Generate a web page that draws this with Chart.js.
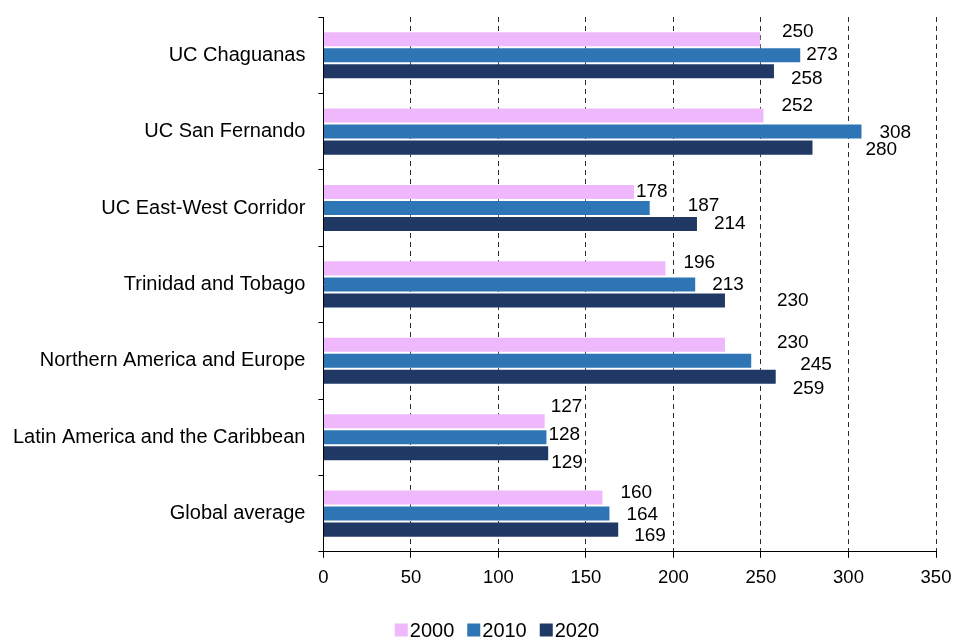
<!DOCTYPE html>
<html>
<head>
<meta charset="utf-8">
<script src="https://cdn.jsdelivr.net/npm/chart.js@4/dist/chart.umd.min.js"></script>
<style>
  html, body { margin: 0; padding: 0; background: #fff; }
  #wrap { width: 954px; height: 639px; }
</style>
</head>
<body>
<div id="wrap"><canvas id="c" width="954" height="639"></canvas></div>
<script>
// Categories and series
const categories = [
  'UC Chaguanas',
  'UC San Fernando',
  'UC East-West Corridor',
  'Trinidad and Tobago',
  'Northern America and Europe',
  'Latin America and the Caribbean',
  'Global average'
];
const seriesNames = ['2000', '2010', '2020'];
const values2000 = [250, 252, 178, 196, 230, 127, 160];
const values2010 = [273, 308, 187, 213, 245, 128, 164];
const values2020 = [258, 280, 214, 230, 259, 129, 169];
const xTicks = [0, 50, 100, 150, 200, 250, 300, 350];

const colors = ['#EFB8FC', '#2E75B6', '#203864'];

// Hand-placed value labels: [gap after bar end, vertical shift] in px
const labelNudge = [
  [[21, -7], [17, -10], [1, 0], [17, -6], [51, -2], [5, -14], [17, -5]],
  [[5, 0], [17, 1], [37, -2], [16, 0], [48, 4], [1, -2], [16, 1]],
  [[16, 8], [52, 2], [16, 0], [51, 0], [16, 12], [2, 10], [15, 6]]
];

const FONT = '"Liberation Sans", Arial, Helvetica, sans-serif';

const valueLabels = {
  id: 'valueLabels',
  afterDatasetsDraw(chart) {
    const ctx = chart.ctx;
    ctx.save();
    ctx.font = '19px ' + FONT;
    ctx.fillStyle = '#000';
    ctx.textAlign = 'left';
    ctx.textBaseline = 'middle';
    chart.data.datasets.forEach((ds, di) => {
      const meta = chart.getDatasetMeta(di);
      meta.data.forEach((bar, i) => {
        const n = labelNudge[di][i];
        ctx.fillText(String(ds.data[i]), bar.x + n[0], bar.y + n[1]);
      });
    });
    ctx.restore();
  }
};

const bottomLegend = {
  id: 'bottomLegend',
  afterDraw(chart) {
    const ctx = chart.ctx;
    const box = 13, textGap = 2, itemGap = 13;
    ctx.save();
    ctx.font = '20px ' + FONT;
    ctx.textBaseline = 'middle';
    ctx.textAlign = 'left';
    const items = chart.data.datasets.map(ds => ({
      label: ds.label, color: ds.backgroundColor,
      w: box + textGap + ctx.measureText(ds.label).width
    }));
    const total = items.reduce((s, it) => s + it.w, 0) + itemGap * (items.length - 1);
    let x = chart.width / 2 + 20 - total / 2;
    const y = 630;
    items.forEach(it => {
      ctx.fillStyle = it.color;
      ctx.fillRect(x, y - box / 2, box, box);
      ctx.fillStyle = '#000';
      ctx.fillText(it.label, x + box + textGap, y + 1);
      x += it.w + itemGap;
    });
    ctx.restore();
  }
};

// Let the layout padding alone decide the plot edges
const noOverhang = scale => {
  scale.paddingTop = 0;
  scale.paddingBottom = 0;
  scale.paddingLeft = 0;
  scale.paddingRight = 0;
};

const seriesValues = [values2000, values2010, values2020];

new Chart(document.getElementById('c'), {
  type: 'bar',
  data: {
    labels: categories,
    datasets: seriesNames.map((name, k) => ({
      label: name,
      data: seriesValues[k],
      backgroundColor: colors[k],
      borderColor: 'rgba(255,255,255,0.3)',
      borderWidth: 1,
      categoryPercentage: 0.63,
      barPercentage: 1.0
    }))
  },
  options: {
    indexAxis: 'y',
    responsive: false,
    animation: false,
    events: [],
    layout: { padding: { left: 0, right: 18, top: 17, bottom: 41 } },
    plugins: {
      legend: { display: false },
      tooltip: { enabled: false }
    },
    scales: {
      x: {
        min: xTicks[0],
        max: xTicks[xTicks.length - 1],
        afterBuildTicks(scale) { scale.ticks = xTicks.map(v => ({ value: v })); },
        afterFit: noOverhang,
        grid: {
          color: c => (c.index === 0 ? 'rgba(0,0,0,0)' : '#2a2a2a'),
          lineWidth: 1,
          tickColor: '#000',
          tickLength: 6,
          tickBorderDash: []
        },
        border: { display: true, color: '#000', width: 1, dash: [5, 4] },
        ticks: {
          color: '#000',
          font: { family: FONT, size: 18.5 },
          padding: 9,
          maxRotation: 0
        }
      },
      y: {
        afterFit: noOverhang,
        grid: {
          offset: true,
          drawOnChartArea: false,
          color: '#000',
          tickColor: '#000',
          tickLength: 5
        },
        border: { display: true, color: '#000', width: 1 },
        ticks: {
          color: '#000',
          font: { family: FONT, size: 20 },
          padding: 13
        }
      }
    }
  },
  plugins: [valueLabels, bottomLegend]
});
</script>
</body>
</html>
